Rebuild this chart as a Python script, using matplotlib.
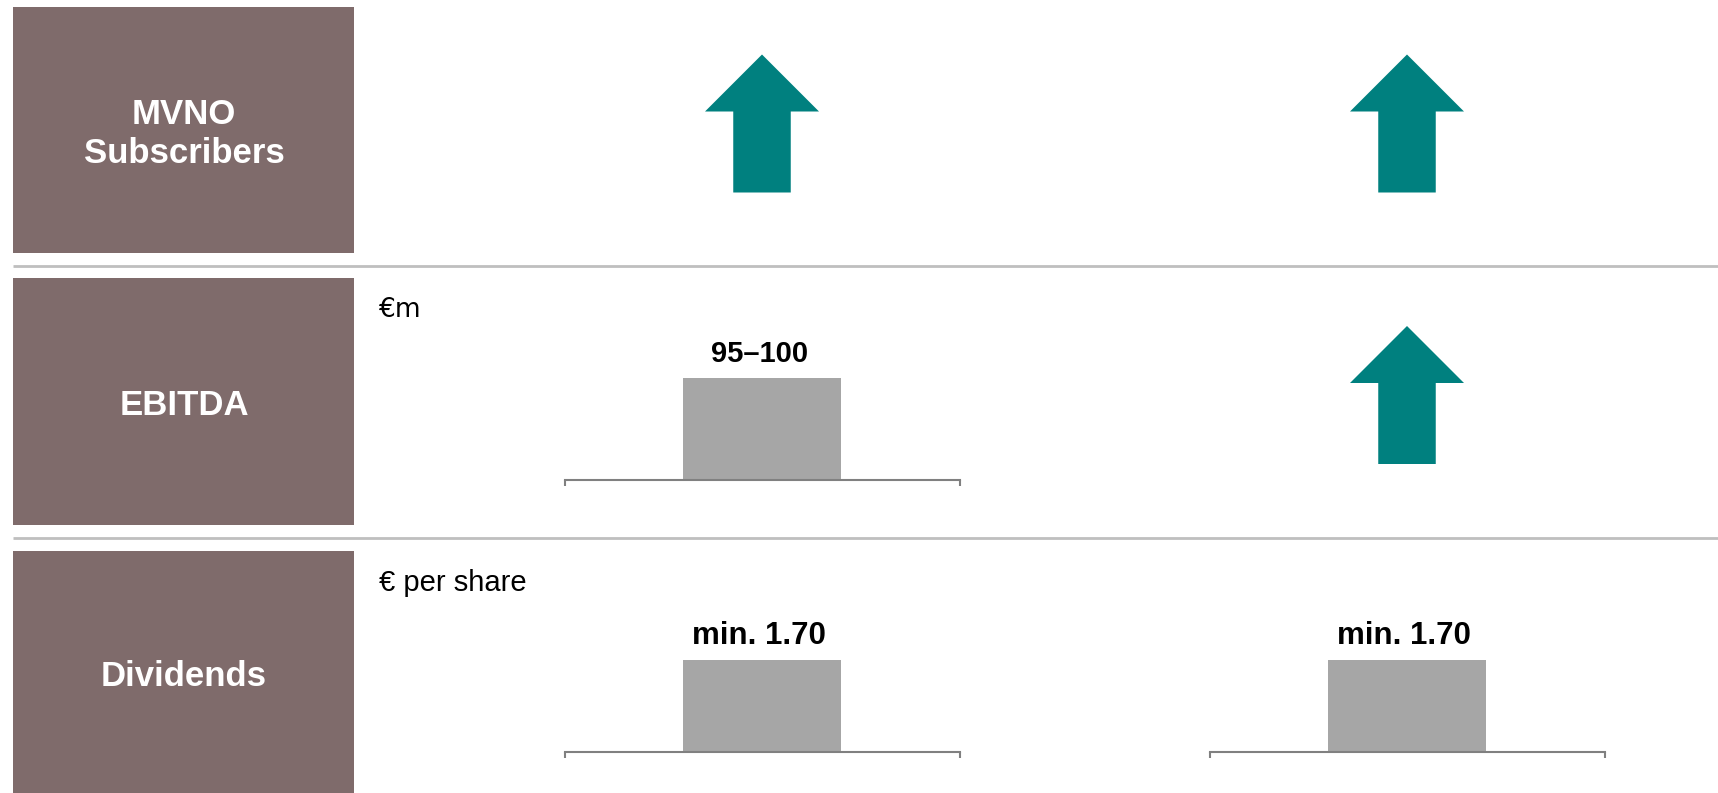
import matplotlib
matplotlib.use("Agg")
import matplotlib.pyplot as plt
from matplotlib.patches import Rectangle, Polygon

# ---------------- data ----------------
row_labels = ["MVNO\nSubscribers", "EBITDA", "Dividends"]
unit_labels = ["", "€m", "€ per share"]
# per row: what is shown in column 1 and column 2 ("up" arrow or "bar")
col1_kind = ["up", "bar", "bar"]
col2_kind = ["up", "up", "bar"]
col1_values = [None, 97.5, 1.70]
col2_values = [None, None, 1.70]
col1_text = ["", "95–100", "min. 1.70"]
col2_text = ["", "", "min. 1.70"]

# ---------------- style / layout ----------------
W, H = 1718, 793
BOX_COLOR = "#7F6B6B"
ARROW_COLOR = "#00807F"
BAR_COLOR = "#A6A6A6"
SEP_COLOR = "#BFBFBF"
AXIS_COLOR = "#808080"
FONT = ["Liberation Sans", "DejaVu Sans"]

row_top = [7, 278, 551]
row_bot = [253, 525, 793]
label_y = [134.0, 405.5, 676.0]
box_x0, box_x1 = 13, 354
sep_y = [265.5, 537.5]
col_center = [762, 1407]
axis_half = 197.5
bar_px = [None, 102, 92]      # pixel height of bar in that row
axis_line_y = [None, 480, 751.6]
bar_label_size = [None, 21, 22.5]

fig = plt.figure(figsize=(W / 100, H / 100), dpi=100)
base = fig.add_axes([0, 0, 1, 1])
base.set_xlim(0, W)
base.set_ylim(H, 0)
base.axis("off")

# separators
for y in sep_y:
    base.plot([box_x0, W], [y, y], color=SEP_COLOR, lw=2.0, solid_capstyle="butt")

# row boxes and labels
for i, lab in enumerate(row_labels):
    base.add_patch(Rectangle((box_x0, row_top[i]), box_x1 - box_x0,
                             row_bot[i] - row_top[i], facecolor=BOX_COLOR,
                             edgecolor="none"))
    base.text((box_x0 + box_x1) / 2 + 0.5, label_y[i], lab, color="white",
              fontsize=25, fontweight="bold", family=FONT,
              ha="center", va="center", linespacing=1.23)

# unit labels
unit_y = [None, 310.0, 583.0]
unit_font = [None, ["DejaVu Sans"], FONT]
unit_size = [None, 19, 21]
for i, u in enumerate(unit_labels):
    if u:
        base.text(379, unit_y[i], u, fontsize=unit_size[i], family=unit_font[i],
                  ha="left", va="center", color="black")


def draw_arrow(cx, tip_y):
    total_h, head_h, head_w, shaft_w = 138, 57, 114, 57.5
    pts = [(cx, tip_y),
           (cx + head_w / 2, tip_y + head_h),
           (cx + shaft_w / 2, tip_y + head_h),
           (cx + shaft_w / 2, tip_y + total_h),
           (cx - shaft_w / 2, tip_y + total_h),
           (cx - shaft_w / 2, tip_y + head_h),
           (cx - head_w / 2, tip_y + head_h)]
    base.add_patch(Polygon(pts, closed=True, facecolor=ARROW_COLOR,
                           edgecolor="none"))


def draw_bar(i, cx, value, text):
    ax_h = 170
    y_line = axis_line_y[i]
    ax = fig.add_axes([(cx - axis_half) / W, 1 - y_line / H,
                       2 * axis_half / W, ax_h / H])
    ax.bar([0], [value], width=0.4, color=BAR_COLOR)
    ax.set_xlim(-0.5, 0.5)
    ax.set_ylim(0, value * ax_h / bar_px[i])
    for s in ["top", "left", "right"]:
        ax.spines[s].set_visible(False)
    ax.spines["bottom"].set_color(AXIS_COLOR)
    ax.spines["bottom"].set_linewidth(1.5)
    ax.set_xticks([-0.5, 0.5])
    ax.set_xticklabels([])
    ax.set_yticks([])
    ax.tick_params(axis="x", direction="out", length=4.5, width=1.5,
                   color=AXIS_COLOR)
    ax.patch.set_visible(False)
    ax.annotate(text, (0, value), xytext=(-2, 11.5),
                textcoords="offset points", ha="center", va="baseline",
                fontsize=bar_label_size[i], fontweight="bold", family=FONT)


arrow_offset = -6.5
for c, (kinds, vals, texts) in enumerate([(col1_kind, col1_values, col1_text),
                                           (col2_kind, col2_values, col2_text)]):
    for i, k in enumerate(kinds):
        if k == "up":
            cy = (row_top[i] + row_bot[i]) / 2 + arrow_offset
            draw_arrow(col_center[c], cy - 69)
        else:
            draw_bar(i, col_center[c], vals[i], texts[i])

fig.savefig("out.png", dpi=100)
